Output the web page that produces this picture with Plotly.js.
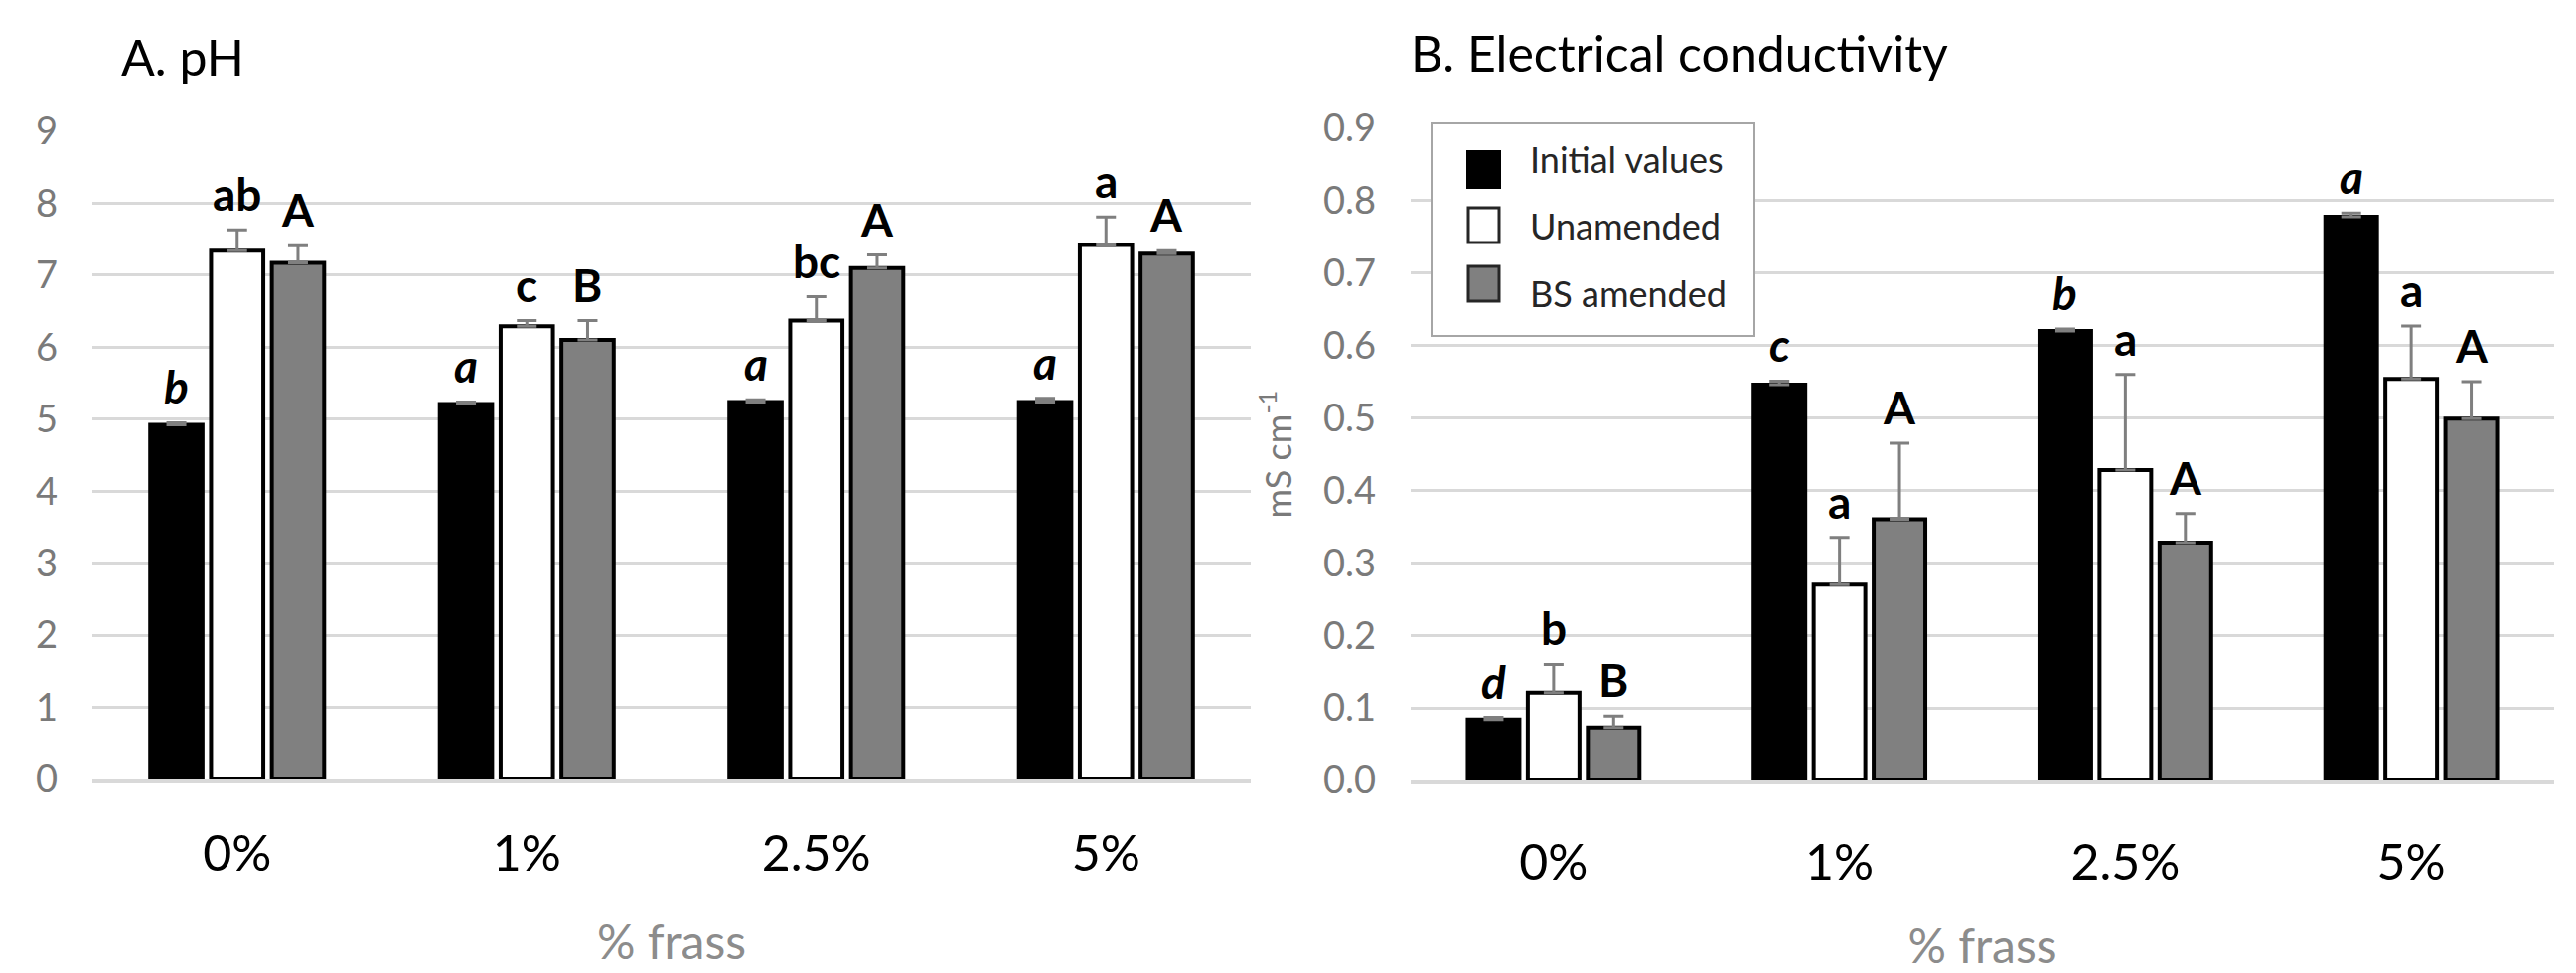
<!DOCTYPE html>
<html>
<head>
<meta charset="utf-8">
<script src="https://cdn.plot.ly/plotly-3.0.1.min.js"></script>
<style>html,body{margin:0;padding:0;background:#fff;}#chart{width:2593px;height:979px;}</style>
</head>
<body>
<div id="chart"></div>
<script>
// ---------- data ----------
const categories = ['0%', '1%', '2.5%', '5%'];
const seriesNames = ['Initial values', 'Unamended', 'BS amended'];

const phInitial      = [4.92, 5.21, 5.24, 5.24];
const phInitialErr   = [0.03, 0.03, 0.03, 0.05];
const phUnamended    = [7.34, 6.29, 6.37, 7.42];
const phUnamendedErr = [0.29, 0.08, 0.33, 0.39];
const phBS           = [7.17, 6.10, 7.10, 7.30];
const phBSErr        = [0.24, 0.27, 0.18, 0.04];

const ecInitial      = [0.084, 0.546, 0.620, 0.778];
const ecInitialErr   = [0.003, 0.005, 0.003, 0.005];
const ecUnamended    = [0.121, 0.270, 0.428, 0.554];
const ecUnamendedErr = [0.039, 0.065, 0.132, 0.073];
const ecBS           = [0.073, 0.360, 0.328, 0.499];
const ecBSErr        = [0.016, 0.105, 0.040, 0.051];

const phLettersInitial   = ['b', 'a', 'a', 'a'];
const phLettersUnamended = ['ab', 'c', 'bc', 'a'];
const phLettersBS        = ['A', 'B', 'A', 'A'];
const ecLettersInitial   = ['d', 'c', 'b', 'a'];
const ecLettersUnamended = ['b', 'a', 'a', 'a'];
const ecLettersBS        = ['B', 'A', 'A', 'A'];

// ---------- styling ----------
const W = 2593, H = 979;
const px = x => x / W;
const py = y => 1 - y / H;
const FONT = 'Lato, "Open Sans", sans-serif';
const fills = ['#000000', '#ffffff', '#808080'];
const BARGAP = 0.37;

function barTrace(name, y, err, i, xa, ya) {
  return {
    type: 'bar', name: name, x: categories, y: y,
    xaxis: xa, yaxis: ya, showlegend: false,
    marker: {color: fills[i], line: {color: '#000000', width: 4}},
    error_y: {type: 'data', array: err, symmetric: false, color: '#7f7f7f', thickness: 3, width: 10},
    hoverinfo: 'x+y+name'
  };
}

const panels = [
  {xa: 'x', ya: 'y', xr: 'x', yr: 'y',
   vals: [phInitial, phUnamended, phBS], errs: [phInitialErr, phUnamendedErr, phBSErr],
   letters: [phLettersInitial, phLettersUnamended, phLettersBS]},
  {xa: 'x2', ya: 'y2', xr: 'x2', yr: 'y2',
   vals: [ecInitial, ecUnamended, ecBS], errs: [ecInitialErr, ecUnamendedErr, ecBSErr],
   letters: [ecLettersInitial, ecLettersUnamended, ecLettersBS]}
];

const data = [];
const annotations = [];
panels.forEach(p => {
  for (let i = 0; i < 3; i++) {
    data.push(barTrace(seriesNames[i], p.vals[i], p.errs[i], i, p.xa, p.ya));
    const offset = (i - 1) * (1 - BARGAP) / 3;
    categories.forEach((c, j) => {
      annotations.push({
        xref: p.xr, yref: p.yr, x: j + offset, y: p.vals[i][j] + p.errs[i][j],
        text: i === 0 ? '<i>' + p.letters[i][j] + '</i>' : p.letters[i][j],
        showarrow: false, xanchor: 'center', yanchor: 'bottom', yshift: 7,
        font: {family: FONT, size: 46, color: '#000000', weight: 'bold'}
      });
    });
  }
});

// panel titles
annotations.push({xref: 'paper', yref: 'paper', x: px(120), y: py(57), xanchor: 'left', yanchor: 'middle',
  text: 'A. pH', showarrow: false, font: {family: FONT, size: 50, color: '#000000'}});
annotations.push({xref: 'paper', yref: 'paper', x: px(1418), y: py(53), xanchor: 'left', yanchor: 'middle',
  text: 'B. Electrical conductivity', showarrow: false, font: {family: FONT, size: 50, color: '#000000'}});

// custom legend (panel B)
const legendY = [160, 227, 295];
seriesNames.forEach((n, i) => {
  annotations.push({xref: 'paper', yref: 'paper', x: px(1538), y: py(legendY[i]), xanchor: 'left', yanchor: 'middle',
    text: n, showarrow: false, font: {family: FONT, size: 36, color: '#262626'}});
});
const shapes = [
  {type: 'rect', xref: 'paper', yref: 'paper', x0: px(1441), x1: px(1766), y0: py(338), y1: py(124),
   fillcolor: '#ffffff', line: {color: '#a6a6a6', width: 2}, layer: 'above'},
  {type: 'rect', xref: 'paper', yref: 'paper', x0: px(1477), x1: px(1510), y0: py(189), y1: py(152),
   fillcolor: fills[0], line: {color: '#000000', width: 2}, layer: 'above'},
  {type: 'rect', xref: 'paper', yref: 'paper', x0: px(1478), x1: px(1509), y0: py(244), y1: py(209),
   fillcolor: fills[1], line: {color: '#262626', width: 3}, layer: 'above'},
  {type: 'rect', xref: 'paper', yref: 'paper', x0: px(1478), x1: px(1509), y0: py(303), y1: py(268),
   fillcolor: fills[2], line: {color: '#262626', width: 3}, layer: 'above'}
];

const xBase = {
  type: 'category', showgrid: false, showline: true, linecolor: '#d9d9d9', linewidth: 4,
  ticks: '', tickfont: {family: FONT, size: 50, color: '#000000'}, fixedrange: true
};
const yBase = {
  showgrid: true, gridcolor: '#d9d9d9', gridwidth: 3, zeroline: false, showline: false,
  ticks: '', tickfont: {family: FONT, size: 38, color: '#7a7a7a'}, ticklabelstandoff: 34, fixedrange: true
};

const layout = {
  width: W, height: H, margin: {l: 0, r: 0, t: 0, b: 0},
  paper_bgcolor: '#ffffff', plot_bgcolor: '#ffffff',
  barmode: 'group', bargap: BARGAP, bargroupgap: 0.14,
  showlegend: false,
  xaxis: Object.assign({}, xBase, {domain: [px(93), px(1259)], anchor: 'y', ticklabelstandoff: 28,
    title: {text: '% frass', font: {family: FONT, size: 48, color: '#8c8c8c'}, standoff: 46}}),
  yaxis: Object.assign({}, yBase, {domain: [py(784), py(132)], range: [0, 9], dtick: 1, anchor: 'x'}),
  xaxis2: Object.assign({}, xBase, {domain: [px(1420), px(2571)], anchor: 'y2', ticklabelstandoff: 36,
    title: {text: '% frass', font: {family: FONT, size: 48, color: '#8c8c8c'}, standoff: 48}}),
  yaxis2: Object.assign({}, yBase, {domain: [py(785), py(129)], range: [0, 0.9], dtick: 0.1, tickformat: '.1f', anchor: 'x2',
    title: {text: 'mS cm<sup>-1</sup>', font: {family: FONT, size: 36, color: '#7a7a7a'}, standoff: 20}}),
  annotations: annotations,
  shapes: shapes
};

Plotly.newPlot('chart', data, layout, {displayModeBar: false, staticPlot: true});
</script>
</body>
</html>
